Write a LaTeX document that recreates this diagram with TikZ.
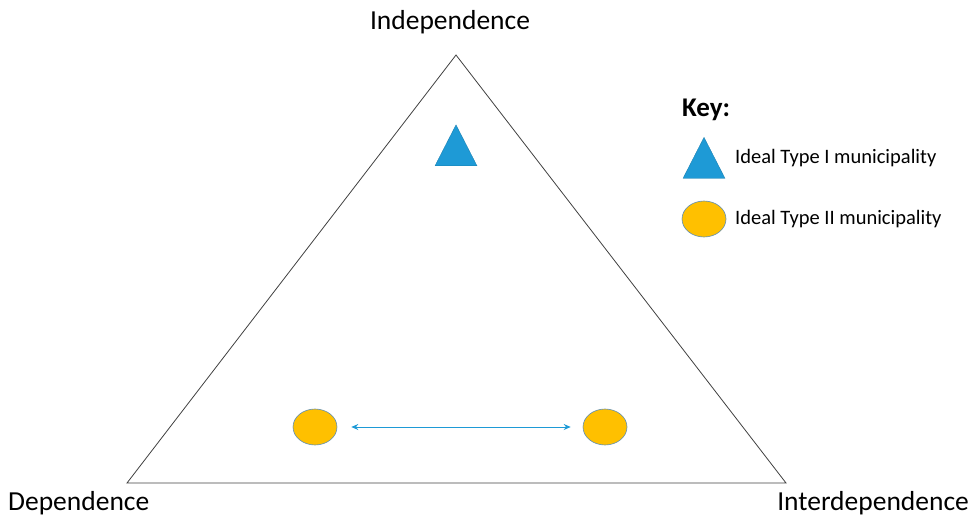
\documentclass[tikz,border=0pt]{standalone}
\usepackage{fontspec}
\setmainfont{Carlito}
\usetikzlibrary{shapes.geometric,arrows.meta}
\definecolor{tblue}{HTML}{1E9AD6}
\definecolor{tgold}{HTML}{FFC000}
\definecolor{tedge}{HTML}{5B8DB8}
\tikzset{
  lbl/.style={font=\fontsize{27.5}{32}\selectfont, inner sep=0pt},
  keytxt/.style={font=\fontsize{20.5}{24}\selectfont, inner sep=0pt, anchor=west},
  tri/.style={isosceles triangle, isosceles triangle stretches, shape border rotate=90, fill=tblue, draw=tblue!80!black, line width=0.3pt, minimum width=42pt, minimum height=41pt, inner sep=0pt},
  munic/.style={ellipse, fill=tgold, draw=tedge, line width=0.6pt, minimum width=44pt, minimum height=36pt, inner sep=0pt},
  link/.style={draw=tblue, line width=0.9pt, {Stealth[length=7pt,width=6pt]}-{Stealth[length=7pt,width=6pt]}, shorten <=14pt, shorten >=12pt}
}
\begin{document}
\begin{tikzpicture}[x=1pt,y=-1pt]
\useasboundingbox (0,0) rectangle (973,519);
\coordinate (top) at (456,55);
\coordinate (bl) at (127,483);
\coordinate (br) at (786,483);
\draw[line width=0.8pt, draw=black!75] (top) -- (bl) -- (br) -- cycle;
\node[lbl] (indep) at (450,22) {Independence};
\node[lbl, anchor=west] (dep) at (8,503) {Dependence};
\node[lbl, anchor=east] (inter) at (969,503) {Interdependence};
\node[tri] (t1) at (456,153) {};
\node[munic] (m1) at (315,427) {};
\node[munic] (m2) at (605,427) {};
\draw[link] (m1) -- (m2);
\node[font=\bfseries\fontsize{27}{32}\selectfont, inner sep=0pt, anchor=west] (key) at (682,110) {Key:};
\node[tri] (kt) at (704,165.5) {};
\node[keytxt] (k1) at (735,158) {Ideal Type I municipality};
\node[munic] (km) at (704,219) {};
\node[keytxt] (k2) at (735,219) {Ideal Type II municipality};
\end{tikzpicture}
\end{document}
